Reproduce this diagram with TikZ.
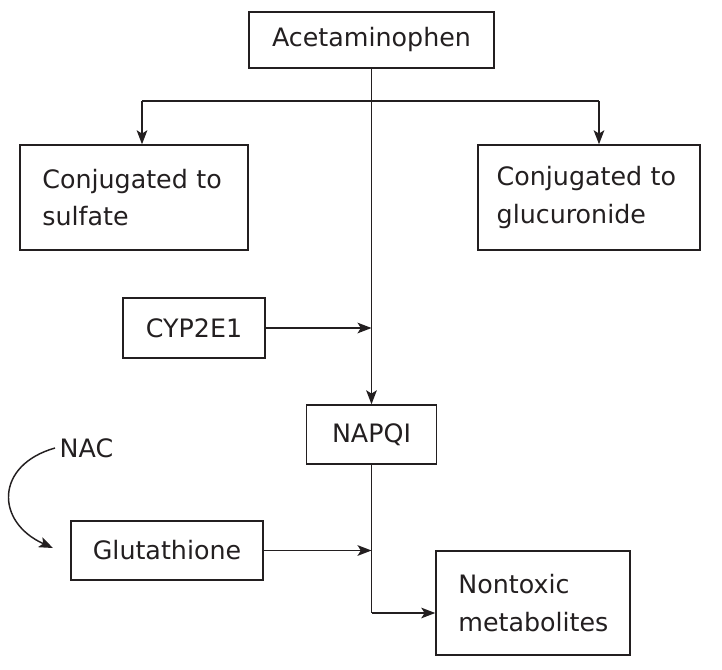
\documentclass[tikz,border=0pt]{standalone}
\usepackage{fontspec}
\setmainfont{DejaVu Sans}
\usetikzlibrary{positioning,arrows.meta}
\definecolor{inkdark}{RGB}{35,31,32}

\begin{document}
\begin{tikzpicture}[x=0.75pt, y=-0.75pt,
  box/.style={draw=inkdark, line width=1.1pt, text=inkdark,
    font=\fontsize{19}{28}\selectfont},
  twoline/.style={box, align=left, inner xsep=16.75pt, inner ysep=0pt},
  flow/.style={draw=inkdark, line width=1.1pt,
    -{Stealth[length=10.5pt, width=8pt, inset=2.5pt]}},
  link/.style={draw=inkdark, line width=1.1pt},
]
  \useasboundingbox (0,0) rectangle (722,669);

  % Boxes
  \node[box, minimum width=183.75pt, minimum height=42pt] (acet) at (371.5,40) {Acetaminophen};
  \node[twoline, text width=137.5pt, minimum height=78.75pt] (sulf) at (134,197.5) {Conjugated to\\sulfate};
  \node[twoline, inner xsep=14pt, text width=138.5pt, minimum height=78.75pt] (gluc) at (589,197.5) {Conjugated to\\glucuronide};
  \node[box, minimum width=106.5pt, minimum height=45pt] (cyp) at (194,328) {CYP2E1};
  \node[box, minimum width=97.5pt, minimum height=44.25pt] (napqi) at (371.5,434.5) {NAPQI};
  \node[box, minimum width=144pt, minimum height=44.25pt] (glut) at (167,550.5) {Glutathione};
  \node[twoline, text width=112pt, minimum height=78pt] (nontox) at (533,603) {Nontoxic\\metabolites};
  \node[text=inkdark, font=\fontsize{19}{28}\selectfont] (nac) at (86.5,448) {NAC};

  % Branch points
  \coordinate (lbr) at (142,101);
  \coordinate (rbr) at (599,101);
  \coordinate (turn) at (371.5,613);
  \coordinate (nacend) at (53,548);

  % Conjugation branches
  \draw[link] (lbr) -- (rbr);
  \draw[flow] (lbr) -- (lbr |- sulf.north);
  \draw[flow] (rbr) -- (rbr |- gluc.north);

  % Oxidation path
  \draw[flow] (acet.south) -- (napqi.north);
  \draw[flow] (cyp.east) -- (cyp.east -| acet.south);
  \draw[flow] (glut.east) -- (glut.east -| napqi.south);
  \draw[link] (napqi.south) -- (turn);
  \draw[flow] (turn) -- (turn -| nontox.west);

  % NAC to glutathione
  \draw[flow] (nac.west) .. controls (-5,465) and (-5,522) .. (nacend);
\end{tikzpicture}
\end{document}
